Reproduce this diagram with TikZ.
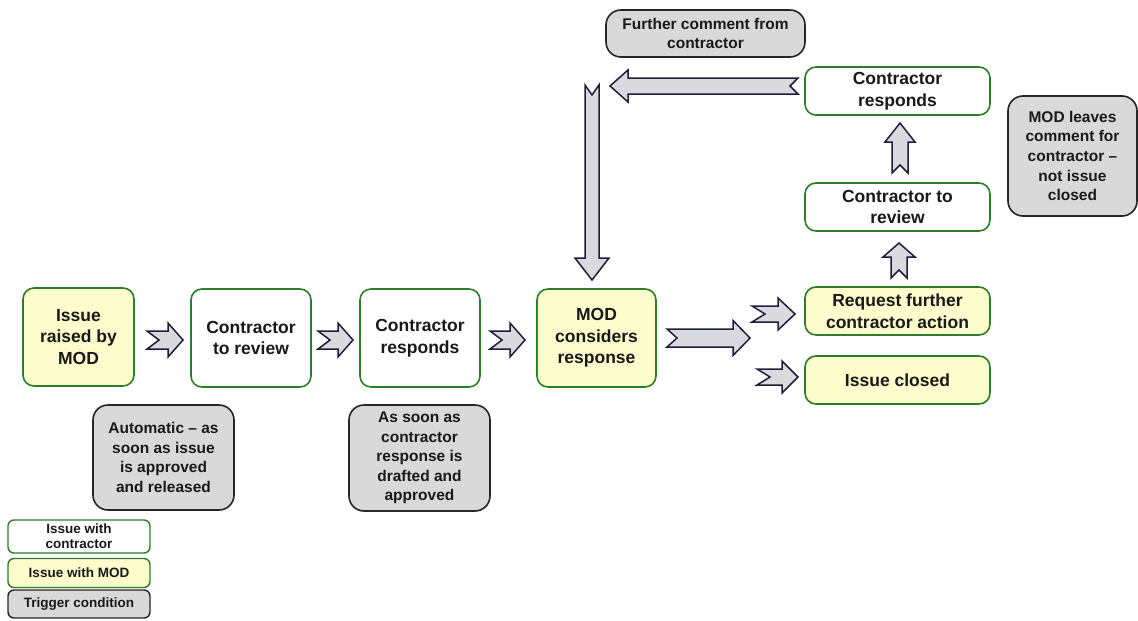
\documentclass[tikz,border=0pt]{standalone}
\usepackage{fontspec}
\setmainfont{Liberation Sans}
\definecolor{boxgreen}{RGB}{46,125,40}
\definecolor{modyellow}{RGB}{252,252,204}
\definecolor{triggray}{RGB}{217,217,217}
\definecolor{arrowfill}{RGB}{218,218,222}
\definecolor{arrowline}{RGB}{30,30,60}
\newcommand{\blockarr}[7]{% tail point, angle, length, H, h, L, n
  \draw[blockarrow, shift={(#1)}, rotate=#2]
    (0,-#5) -- (#3-#6,-#5) -- (#3-#6,-#4) -- (#3,0) -- (#3-#6,#4)
    -- (#3-#6,#5) -- (0,#5) -- (#7,0) -- cycle;}
\begin{document}
\begin{tikzpicture}[x=1pt,y=-1pt,
  base/.style={draw, line width=1.6pt, rounded corners=11pt, align=center,
    inner sep=0pt, font=\bfseries\fontsize{17.5}{21.5}\selectfont, text=black!90},
  contr/.style={base, draw=boxgreen, fill=white},
  modbox/.style={base, draw=boxgreen, fill=modyellow},
  trig/.style={base, draw=black!85, fill=triggray, rounded corners=15pt,
    font=\bfseries\fontsize{15.5}{19.6}\selectfont},
  legend/.style={base, line width=1.4pt, rounded corners=6pt,
    minimum width=142pt, font=\bfseries\fontsize{13.5}{15}\selectfont},
  blockarrow/.style={draw=arrowline, fill=arrowfill, line width=1.5pt, line join=miter}]
\useasboundingbox (0,0) rectangle (1138,621);

% main flow
\node[modbox, minimum width=111pt, minimum height=98pt] (n1) at (78.5,337) {Issue\\raised by\\MOD};
\node[contr, minimum width=120pt, minimum height=98pt] (n2) at (251,338) {Contractor\\to review};
\node[contr, minimum width=120pt, minimum height=98pt] (n3) at (420,338) {Contractor\\responds};
\node[modbox, minimum width=119pt, minimum height=98pt] (n4) at (596.5,338) {MOD\\considers\\response};
\node[modbox, minimum width=185pt, minimum height=48pt] (n5) at (897.5,311) {Request further\\contractor action};
\node[modbox, minimum width=185pt, minimum height=48pt] (n6) at (897.5,380) {Issue closed};
\node[contr, minimum width=185pt, minimum height=48pt] (n7) at (897.5,207) {Contractor to\\review};
\node[contr, minimum width=185pt, minimum height=48pt] (n8) at (897.5,91) {Contractor\\responds};

% trigger conditions
\node[trig, minimum width=199pt, minimum height=47pt] (g1) at (705.5,33.5) {Further comment from\\contractor};
\node[trig, minimum width=129pt, minimum height=120pt] (g2) at (1072.5,156) {MOD leaves\\comment for\\contractor –\\not issue\\closed};
\node[trig, minimum width=141pt, minimum height=105pt] (g3) at (163.5,457.5) {Automatic – as\\soon as issue\\is approved\\and released};
\node[trig, minimum width=141pt, minimum height=106pt] (g4) at (419.5,458) {As soon as\\contractor\\response is\\drafted and\\approved};

% legend
\node[legend, draw=boxgreen, fill=white, minimum height=33pt] (l1) at (79,536.5) {Issue with\\contractor};
\node[legend, draw=boxgreen, fill=modyellow, minimum height=29pt] (l2) at (79,573) {Issue with MOD};
\node[legend, draw=black!85, fill=triggray, minimum height=28pt] (l3) at (79,604) {Trigger condition};

% block arrows
\blockarr{147,340}{0}{36}{17}{9}{15}{12}
\blockarr{318,340}{0}{35}{17}{9}{15}{12}
\blockarr{490,340}{0}{35}{17}{9}{15}{12}
\blockarr{667,338}{0}{83}{17.5}{9}{17}{10}
\blockarr{752,314}{0}{43}{16}{8}{17}{13}
\blockarr{757,377}{0}{41}{16}{8}{16}{13}
\blockarr{899,278}{90}{35}{16}{8}{14}{8}
\blockarr{900,173}{90}{50}{15}{8}{19}{8}
\blockarr{798,86}{180}{188}{16}{8}{18}{8}
\blockarr{592,85}{-90}{195}{17}{7}{22}{10}
\end{tikzpicture}
\end{document}
